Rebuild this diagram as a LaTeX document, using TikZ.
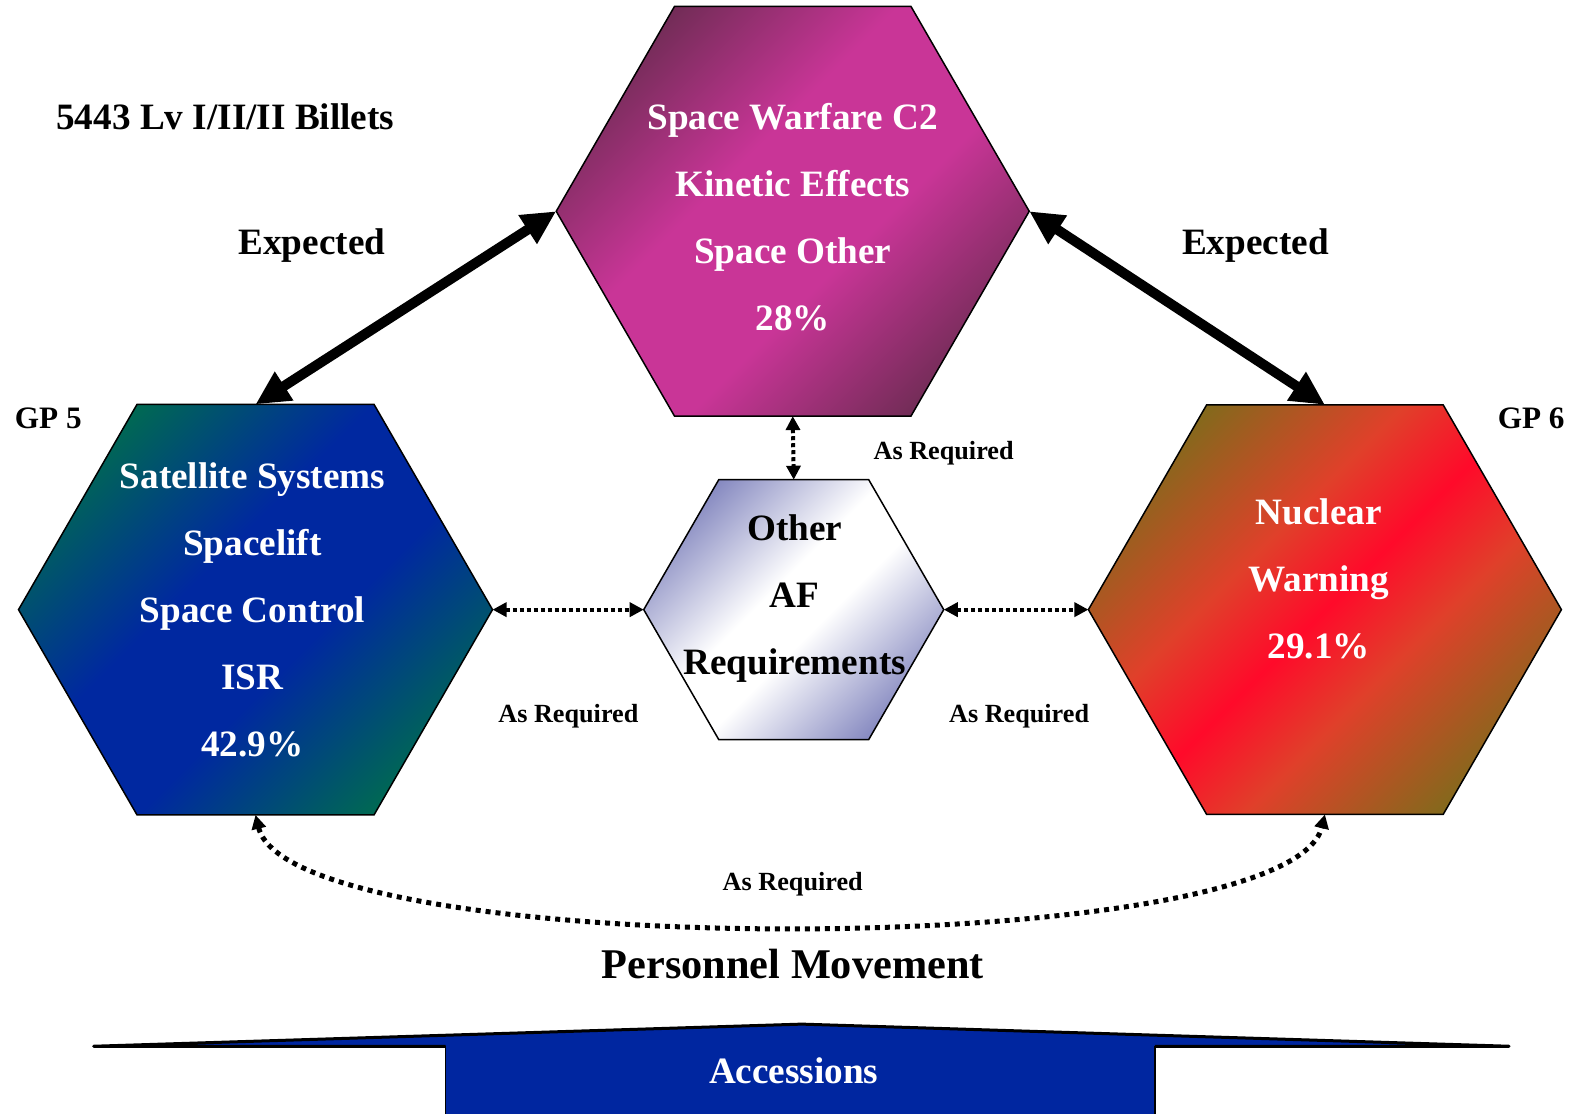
\documentclass[tikz,border=0pt]{standalone}
\usepackage{fontspec}
\setmainfont{Liberation Serif}
\usetikzlibrary{shapes.geometric,arrows.meta}

\definecolor{warfdark}{HTML}{5E2A48}
\definecolor{warfmid}{HTML}{C93597}
\definecolor{gpfivecorner}{HTML}{00704A}
\definecolor{gpfivemid}{HTML}{0028A0}
\definecolor{gpsixcorner}{HTML}{6B7418}
\definecolor{gpsixmid}{HTML}{E0402A}
\definecolor{gpsixline}{HTML}{FF0A2A}
\definecolor{othercorner}{HTML}{6E72B4}
\definecolor{accblue}{HTML}{0026A0}

\pgfdeclarehorizontalshading{warfshade}{100bp}{color(0bp)=(warfdark); color(20bp)=(warfdark); color(42bp)=(warfmid); color(58bp)=(warfmid); color(80bp)=(warfdark); color(100bp)=(warfdark)}
\pgfdeclarehorizontalshading{gpfiveshade}{100bp}{color(0bp)=(gpfivecorner); color(22bp)=(gpfivecorner); color(43bp)=(gpfivemid); color(57bp)=(gpfivemid); color(78bp)=(gpfivecorner); color(100bp)=(gpfivecorner)}
\pgfdeclarehorizontalshading{gpsixshade}{100bp}{color(0bp)=(gpsixcorner); color(20bp)=(gpsixcorner); color(40bp)=(gpsixmid); color(50bp)=(gpsixline); color(60bp)=(gpsixmid); color(80bp)=(gpsixcorner); color(100bp)=(gpsixcorner)}
\pgfdeclarehorizontalshading{othershade}{100bp}{color(0bp)=(othercorner); color(20bp)=(othercorner); color(45bp)=(white); color(55bp)=(white); color(80bp)=(othercorner); color(100bp)=(othercorner)}

\begin{document}
\begin{tikzpicture}[x=1.006bp,y=-1.006bp,
    hexa/.style={draw,line width=1.5bp,regular polygon,regular polygon sides=6,inner sep=0pt,outer sep=0pt,shading angle=-45},
    htext/.style={align=center,text=white,font=\fontsize{37.2bp}{67bp}\selectfont\bfseries},
    lbl/.style={font=\fontsize{37.2bp}{44bp}\selectfont\bfseries},
    small/.style={font=\fontsize{26.2bp}{30bp}\selectfont\bfseries},
    bigarr/.style={line width=10bp,{Triangle[length=34bp,width=32bp]}-{Triangle[length=34bp,width=32bp]}},
    dotarr/.style={line width=4bp,dash pattern=on 4bp off 3bp,{Triangle[length=14bp,width=14bp]}-{Triangle[length=14bp,width=14bp]}}]
    \useasboundingbox (0,0) rectangle (1567.6,1106.4);

    \node[hexa,shading=warfshade,minimum size=473bp] (warfare) at (788,210) {};
    \node[hexa,shading=gpfiveshade,minimum size=474bp] (gp5) at (254,606) {};
    \node[hexa,shading=gpsixshade,minimum size=473bp] (gp6) at (1317,606) {};
    \node[hexa,shading=othershade,minimum size=300bp] (other) at (789,606) {};

    \node[htext] (warfaretxt) at (788,216) {Space Warfare C2\\Kinetic Effects\\Space Other\\28\%};
    \node[htext] (gp5txt) at (251,606) {Satellite Systems\\Spacelift\\Space Control\\ISR\\42.9\%};
    \node[htext] (gp6txt) at (1311,575) {Nuclear\\Warning\\29.1\%};
    \node[htext,text=black] (othertxt) at (790,595) {Other\\AF\\Requirements};

    \node[lbl] (billets) at (224,116) {5443 Lv I/II/II Billets};
    \node[lbl] (expl) at (310,244) {Expected};
    \node[lbl] (expr) at (1248,244) {Expected};
    \node[font=\fontsize{31.2bp}{36bp}\selectfont\bfseries] (gp5lbl) at (48,416) {GP 5};
    \node[font=\fontsize{31.2bp}{36bp}\selectfont\bfseries] (gp6lbl) at (1522,416) {GP 6};
    \node[small] (reqtop) at (938,450) {As Required};
    \node[small] (reqleft) at (565,712) {As Required};
    \node[small] (reqright) at (1013,712) {As Required};
    \node[small] (reqbottom) at (788,879) {As Required};
    \node[font=\fontsize{42.3bp}{48bp}\selectfont\bfseries] (movement) at (788,958) {Personnel Movement};

    % accessions base
    \fill[accblue] (443,1040) -- (93,1040) -- (797,1018) -- (1500,1040) -- (1148,1040) -- (1148,1110) -- (443,1110) -- cycle;
    \draw[line width=3bp,line join=round] (443,1040) -- (93,1040) -- (797,1018) -- (1500,1040) -- (1148,1040);
    \draw[line width=1.2bp] (443,1040) -- (443,1110) (1148,1040) -- (1148,1110);
    \node[lbl,text=white] (accessions) at (789,1064) {Accessions};

    \draw[bigarr] (gp5.north) -- (warfare.west);
    \draw[bigarr] (warfare.east) -- (gp6.north);
    \draw[dotarr] (warfare.south) -- (other.north);
    \draw[dotarr] (gp5.east) -- (other.west);
    \draw[dotarr] (other.east) -- (gp6.west);
    \draw[dotarr,line width=5bp,dash pattern=on 5bp off 5bp] (gp5.south) .. controls (290,957) and (1281,957) .. (gp6.south);
\end{tikzpicture}
\end{document}
